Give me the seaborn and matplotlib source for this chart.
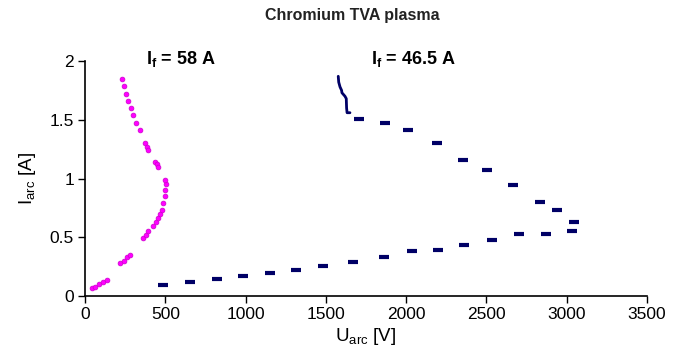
import matplotlib
matplotlib.use("Agg")
import matplotlib.pyplot as plt
import seaborn as sns
import pandas as pd

# Series If = 58 A (magenta)
u58 = [42, 60, 85, 110, 135, 218, 240, 260, 280, 363, 378, 394, 425, 440, 455, 468, 477,
       488, 495, 500, 504, 500, 436, 446, 456, 374, 384, 394, 342, 320, 300, 285, 270, 255, 240, 228]
i58 = [0.065, 0.08, 0.10, 0.12, 0.136, 0.28, 0.30, 0.33, 0.35, 0.49, 0.52, 0.55, 0.60, 0.63, 0.66, 0.70, 0.73,
       0.79, 0.85, 0.90, 0.95, 0.99, 1.14, 1.12, 1.10, 1.30, 1.27, 1.24, 1.41, 1.47, 1.54, 1.60, 1.66, 1.72, 1.79, 1.85]

# Series If = 46.5 A (navy), dashed-marker part
u46 = [488, 654, 820, 986, 1152, 1314, 1480, 1671, 1862, 2034, 2196, 2360, 2533, 2704, 2870, 3030,
       3045, 2941, 2833, 2667, 2505, 2352, 2190, 2013, 1868, 1708]
i46 = [0.094, 0.122, 0.142, 0.17, 0.198, 0.22, 0.255, 0.29, 0.33, 0.38, 0.39, 0.43, 0.48, 0.53, 0.53, 0.55,
       0.63, 0.73, 0.80, 0.945, 1.07, 1.16, 1.30, 1.41, 1.47, 1.51]
# Series If = 46.5 A (navy), continuous top part
u46_top = [1650, 1632, 1629, 1627, 1619, 1600, 1598, 1588, 1580, 1577]
i46_top = [1.56, 1.56, 1.60, 1.68, 1.70, 1.73, 1.75, 1.78, 1.82, 1.87]

x_ticks = [0, 500, 1000, 1500, 2000, 2500, 3000, 3500]
y_ticks = [0, 0.5, 1, 1.5, 2]
y_tick_labels = ["0", "0.5", "1", "1.5", "2"]

sns.set_style("ticks")
plt.rcParams['font.family'] = ['Liberation Sans', 'DejaVu Sans']
plt.rcParams['text.color'] = 'black'
plt.rcParams['axes.labelcolor'] = 'black'

fig = plt.figure(figsize=(6.77, 3.59), dpi=100)
ax = fig.add_axes([0.1256, 0.1755, 0.8301, 0.6545])

df58 = pd.DataFrame({"U": u58, "I": i58})
df46 = pd.DataFrame({"U": u46, "I": i46})
df46t = pd.DataFrame({"U": u46_top, "I": i46_top})

sns.scatterplot(data=df58, x="U", y="I", ax=ax, color="#ff00ff", marker="o", s=12,
                edgecolor="#cc00cc", linewidth=0.5, legend=False)
sns.scatterplot(data=df46, x="U", y="I", ax=ax, color="#000066", marker="_", s=45,
                linewidth=3.0, legend=False)
sns.lineplot(data=df46t, x="U", y="I", ax=ax, color="#000066", linewidth=2.0, sort=False,
             estimator=None, legend=False)

ax.set_xlim(0, 3500)
ax.set_ylim(0, 2)
ax.set_xticks(x_ticks)
ax.set_xticklabels([str(v) for v in x_ticks])
ax.set_yticks(y_ticks)
ax.set_yticklabels(y_tick_labels)
ax.tick_params(axis="both", labelsize=12.5, length=5, width=1, colors="black", direction="out", pad=3)
for s in ["left", "bottom"]:
    ax.spines[s].set_color("black")
    ax.spines[s].set_linewidth(1.2)
sns.despine(ax=ax)

ax.set_xlabel(r"U$_{\mathregular{arc}}$ [V]", fontsize=13.5, labelpad=3)
ax.set_ylabel(r"I$_{\mathregular{arc}}$ [A]", fontsize=13.5, labelpad=8)
fig.text(0.52, 0.958, "Chromium TVA plasma", ha="center", va="center", fontsize=11.5, fontweight="bold",
         color="#222222")
ax.text(380, 2.02, r"I$_{\mathregular{f}}$ = 58 A", fontsize=13, fontweight="bold", va="center", ha="left")
ax.text(1780, 2.02, r"I$_{\mathregular{f}}$ = 46.5 A", fontsize=13, fontweight="bold", va="center", ha="left")

fig.savefig("out.png", dpi=100)
